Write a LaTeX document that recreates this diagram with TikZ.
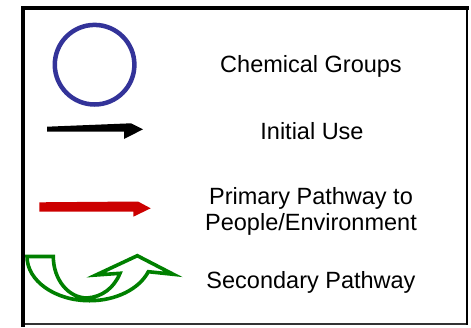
\documentclass[tikz,border=0pt]{standalone}
\usepackage{fontspec}
\setmainfont{Liberation Sans}
\definecolor{groupblue}{RGB}{51,51,153}
\definecolor{primred}{RGB}{204,0,0}
\definecolor{secgreen}{RGB}{0,128,0}
\begin{document}
\begin{tikzpicture}[x=1pt,y=-1pt,
  legendtext/.style={inner sep=0pt,anchor=base,font=\fontsize{23.5}{25.7}\selectfont,align=center},
  groupring/.style={circle,draw=groupblue,line width=4.5pt,minimum size=79.6pt,inner sep=0pt},
  blockarrow/.style={line join=miter}]
\useasboundingbox (0,0) rectangle (471,327);
% frame
\draw[line width=2pt,black!80] (23,324) -- (467,324);
\draw[line width=2.5pt] (467,8) -- (467,325);
\draw[line width=4pt,line cap=rect] (467,8) -- (23,8) -- (23,325);
% symbols
\node[groupring] (grp) at (94.6,64.7) {};
\fill[black,blockarrow] (47,126.7) -- (131,123.3) -- (143,129.3) -- (124,139) -- (124,131.7) -- (47,131.7) -- cycle;
\fill[primred,blockarrow] (39.3,202.3) -- (138,201.5) -- (150.7,208.3) -- (133.3,216.7) -- (133.3,211.7) -- (39.3,211.7) -- cycle;
\draw[secgreen,line width=3.6pt,blockarrow]
  (27,256.5) -- (53.3,256.5)
  .. controls (53.3,279.5) and (68.4,298) .. (87,298)
  .. controls (102,297) and (114,288) .. (120,273.3)
  -- (96,275) -- (137.3,255.7) -- (173.3,274.3) -- (148.3,271.7)
  .. controls (139.2,289.1) and (115.8,300.7) .. (89.6,300.7)
  .. controls (55.0,300.7) and (27,280.8) .. (27,256.5) -- cycle;
% labels
\node[legendtext] (tgrp) at (311,72.7) {Chemical Groups};
\node[legendtext] (tinit) at (312,139.3) {Initial Use};
\node[legendtext] (tprim) at (311,230) {Primary Pathway to\\People/Environment};
\node[legendtext] (tsec) at (311,288.3) {Secondary Pathway};
\end{tikzpicture}
\end{document}
